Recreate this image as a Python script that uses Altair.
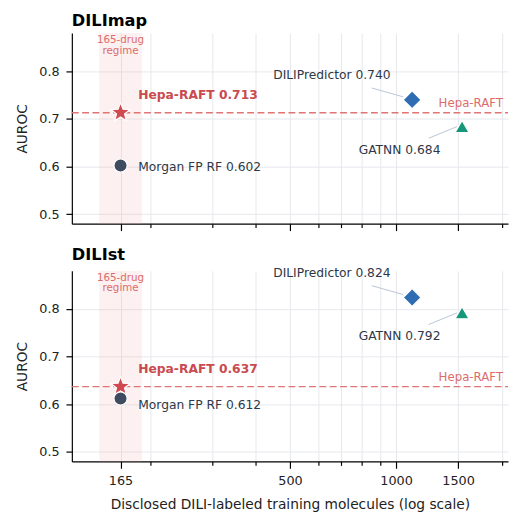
import math
import altair as alt
import pandas as pd

# ---- data ----
models = ["Hepa-RAFT", "Morgan FP RF", "DILIPredictor", "GATNN"]
n_train = [165, 165, 1111, 1540]
dilimap_auroc = [0.713, 0.602, 0.740, 0.684]
dilist_auroc = [0.637, 0.612, 0.824, 0.792]
panels = ["DILImap", "DILIst"]
x_tick_values = [165, 200, 300, 400, 500, 600, 700, 800, 900, 1000, 1500, 2000]
x_label_values = [165, 500, 1000, 1500]
y_tick_values = [0.5, 0.6, 0.7, 0.8]
regime_n = 165
regime_text = ["165-drug", "regime"]

W, H = 444, 194
FONT = "DejaVu Sans"

# star symbol path
pts = []
for k in range(10):
    r = 1.0 if k % 2 == 0 else 0.42
    a = math.radians(-90 + 36 * k)
    pts.append(f"{r*math.cos(a):.3f},{r*math.sin(a):.3f}")
STAR = "M" + " L".join(pts) + " Z"

styles = {
    "Hepa-RAFT": dict(shape=STAR, color="#d1494e", size=420),
    "Morgan FP RF": dict(shape="circle", color="#3f4b5e", size=180),
    "DILIPredictor": dict(shape="diamond", color="#2f6db3", size=330),
    "GATNN": dict(shape="triangle-up", color="#17977a", size=200),
}

xscale = alt.Scale(type="log", domain=[120, 2080], nice=False)
yscale = alt.Scale(domain=[0.48, 0.88], nice=False, zero=False)

label_test = " || ".join(f"datum.value == {v}" for v in x_label_values)


def make_x(field, show_labels):
    axis = alt.Axis(
        values=x_tick_values,
        labels=show_labels,
        labelExpr=f"({label_test}) ? format(datum.value, 'd') : ''",
        tickSize={"condition": {"test": label_test, "value": 7}, "value": 4},
        title="Disclosed DILI-labeled training molecules (log scale)" if show_labels else None,
        labelPadding=7,
        titlePadding=10,
    )
    return alt.X(field, type="quantitative", scale=xscale, axis=axis)


def make_y(field):
    return alt.Y(
        field, type="quantitative", scale=yscale,
        axis=alt.Axis(values=y_tick_values, format=".1f", title="AUROC",
                      tickSize=6, labelPadding=7, titlePadding=9),
    )


def panel(name, values, show_x_labels, morgan_dy):
    df = pd.DataFrame({"model": models, "n": n_train, "v": values})
    hepa = df[df.model == "Hepa-RAFT"]
    X = make_x("n", show_x_labels)
    Y = make_y("v")

    band_df = pd.DataFrame({"lo": [regime_n / 1.15], "hi": [regime_n * 1.15]})
    band = alt.Chart(band_df).mark_rect(color="#f2b8b5", opacity=0.2).encode(
        x=make_x("lo", show_x_labels), x2="hi", y=alt.value(0), y2=alt.value(H)
    )
    band_txt = alt.Chart(pd.DataFrame({"n": [regime_n], "t": [regime_text]})).mark_text(
        font=FONT, fontSize=10.5, color="#dd6b6b", baseline="top", align="center",
        lineHeight=11,
    ).encode(x=X, y=alt.value(2), text="t")

    dash = alt.Chart(hepa).mark_rule(color="#e07575", strokeDash=[7, 3.5], strokeWidth=1.5).encode(
        y=Y, x=alt.value(0), x2=alt.value(W)
    )
    dash_lbl = alt.Chart(hepa).mark_text(
        text="Hepa-RAFT", font=FONT, fontSize=12, color="#dd6b6b", align="right", dy=-10
    ).encode(y=Y, x=alt.value(W - 5))

    layers = [band, band_txt, dash, dash_lbl]

    # connectors
    for m, o in [("DILIPredictor", (-9, -3, -41, -12)), ("GATNN", (-5, 0, -34, 12))]:
        d = df[df.model == m]
        layers.append(alt.Chart(d).mark_rule(
            color="#b9c5d6", strokeWidth=1,
            xOffset=o[0], yOffset=o[1], x2Offset=o[2], y2Offset=o[3],
        ).encode(x=X, y=Y, x2="n", y2="v"))

    for m in models:
        d = df[df.model == m]
        s = styles[m]
        layers.append(alt.Chart(d).mark_point(
            shape=s["shape"], filled=True, fill=s["color"], size=s["size"], opacity=1,
            stroke="white", strokeWidth=1.2,
        ).encode(x=X, y=Y))

    def lbl(m, dx, dy, align, color, bold=False):
        d = df[df.model == m].assign(t=lambda x: x.model + " " + x.v.map(lambda v: f"{v:.3f}"))
        return alt.Chart(d).mark_text(
            font=FONT, fontSize=12.5, color=color, align=align, dx=dx, dy=dy,
            fontWeight="bold" if bold else "normal", baseline="middle",
        ).encode(x=X, y=Y, text="t")

    layers += [
        lbl("Hepa-RAFT", 18, -18, "left", "#c94a4f", bold=True),
        lbl("Morgan FP RF", 18, morgan_dy, "left", "#2d3748"),
        lbl("DILIPredictor", -22, -25, "right", "#2d3748"),
        lbl("GATNN", -22, 24, "right", "#2d3748"),
    ]

    return alt.layer(*layers).properties(
        width=W, height=H,
        title=alt.TitleParams(name, anchor="start", frame="group", fontSize=16.5,
                              fontWeight="bold", font=FONT, color="black", offset=4),
    )


top = panel(panels[0], dilimap_auroc, False, 2)
bottom = panel(panels[1], dilist_auroc, True, 7)

chart = alt.vconcat(top, bottom, spacing=15).properties(
    padding={"left": 8, "top": 0, "right": 0, "bottom": 0}
).configure_view(stroke=None).configure_axis(
    domainColor="black", tickColor="black", gridColor="#e6e8ec", gridWidth=1,
    labelFont=FONT, titleFont=FONT, labelFontSize=13, titleFontSize=14,
    labelColor="#222222", titleColor="#222222", titleFontWeight="normal",
    domainWidth=1.2, tickWidth=1.2,
)

chart.save("out.html", embed_options={"renderer": "svg", "actions": False})
